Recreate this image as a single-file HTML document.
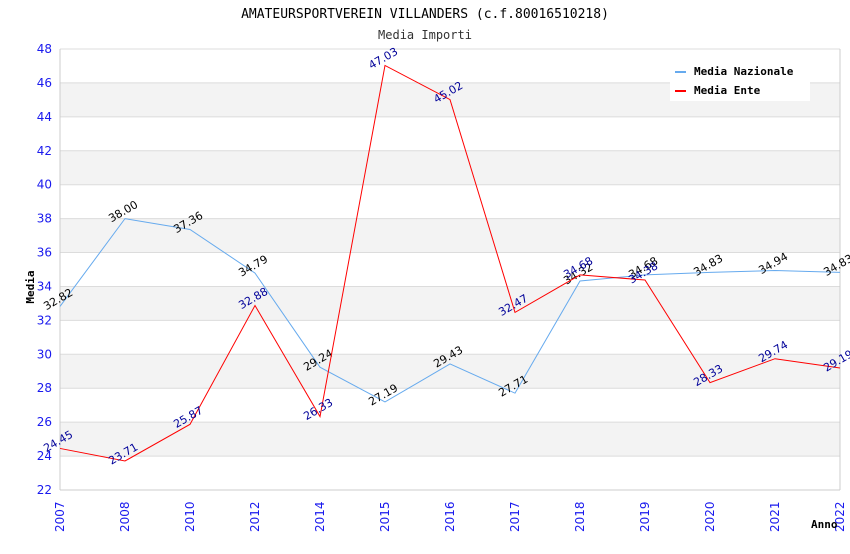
<!DOCTYPE html>
<html><head><meta charset="utf-8"><style>
body{margin:0;background:#fff;font-family:"DejaVu Sans Mono","Liberation Mono",monospace}
</style></head><body>
<svg id="c" width="850" height="550" xmlns="http://www.w3.org/2000/svg"></svg>
<script>
const categories=["2007","2008","2010","2012","2014","2015","2016","2017","2018","2019","2020","2021","2022"];
const nazionale=[32.82,38.00,37.36,34.79,29.24,27.19,29.43,27.71,34.32,34.68,34.83,34.94,34.83];
const ente=[24.45,23.71,25.87,32.88,26.33,47.03,45.02,32.47,34.68,34.38,28.33,29.74,29.19];
const yTicks=[22,24,26,28,30,32,34,36,38,40,42,44,46,48];
const L=60,R=840,T=49,B=490,ymin=22,ymax=48;
const svg=document.getElementById('c');const NS='http://www.w3.org/2000/svg';
const x=i=>L+i*(R-L)/(categories.length-1);
const y=v=>B-(v-ymin)*(B-T)/(ymax-ymin);
function el(t,a,p){const e=document.createElementNS(NS,t);for(const k in a)e.setAttribute(k,a[k]);(p||svg).appendChild(e);return e;}
function txt(s,a){const e=el('text',a);e.textContent=s;return e;}
for(let i=0;i<yTicks.length-1;i++){const a=yTicks[i],b=yTicks[i+1];
 if(Math.round((a-24)/4)*4===a-24&&a>=24){const r=el('rect',{x:L,y:y(b),width:R-L,height:y(a)-y(b),fill:'#f3f3f3'});
 }}
yTicks.forEach(v=>{const g=el('line',{x1:L,x2:R,y1:y(v),y2:y(v),stroke:'#dcdcdc'});
 
 const t=txt(v,{x:52,y:y(v)+4,'text-anchor':'end','font-size':12,fill:'#1a1aee','font-family':'DejaVu Sans,sans-serif'});
 });
el('line',{x1:L,x2:L,y1:T,y2:B,stroke:'#ccc'});el('line',{x1:R,x2:R,y1:T,y2:B,stroke:'#ccc'});el('line',{x1:L,x2:R,y1:B,y2:B,stroke:'#ccc'});
categories.forEach((c,i)=>{const t=txt(c,{x:0,y:0,transform:`translate(${x(i)+4},${B+42}) rotate(-90)`,'font-size':12,fill:'#1a1aee','font-family':'DejaVu Sans,sans-serif'});
 });
function series(d,col,lcol,name){const p=el('polyline',{points:d.map((v,i)=>x(i)+','+y(v)).join(' '),fill:'none',stroke:col,'stroke-width':1});
 
 d.forEach((v,i)=>{const t=txt(v.toFixed(2),{x:0,y:0,transform:`translate(${x(i)},${y(v)-4}) rotate(-30)`,'text-anchor':'middle','font-size':11,fill:lcol,'font-family':'DejaVu Sans,sans-serif'});
 });}
series(nazionale,'#66aaee','#000','nazionale');
series(ente,'#ff0000','#000099','ente');
const t1=txt('AMATEURSPORTVEREIN VILLANDERS (c.f.80016510218)',{x:425,y:18,'text-anchor':'middle','font-size':13,fill:'#000'});

const t2=txt('Media Importi',{x:425,y:39,'text-anchor':'middle','font-size':12,fill:'#333'});

const yt=txt('Media',{x:0,y:0,transform:'translate(34,287) rotate(-90)','text-anchor':'middle','font-size':11,'font-weight':'bold',fill:'#000'});

const xt=txt('Anno',{x:811,y:528,'font-size':11,'font-weight':'bold',fill:'#000'});

const lg=el('g',{});
el('rect',{x:670,y:60,width:140,height:41,fill:'#fff'},lg);
el('rect',{x:675,y:71,width:11,height:2,fill:'#66aaee'},lg);
el('rect',{x:675,y:90,width:11,height:2,fill:'#ff0000'},lg);
const l1=el('text',{x:694,y:75,'font-size':11,'font-weight':'bold',fill:'#000'},lg);l1.textContent='Media Nazionale';

const l2=el('text',{x:694,y:94,'font-size':11,'font-weight':'bold',fill:'#000'},lg);l2.textContent='Media Ente';

</script>
</body></html>
